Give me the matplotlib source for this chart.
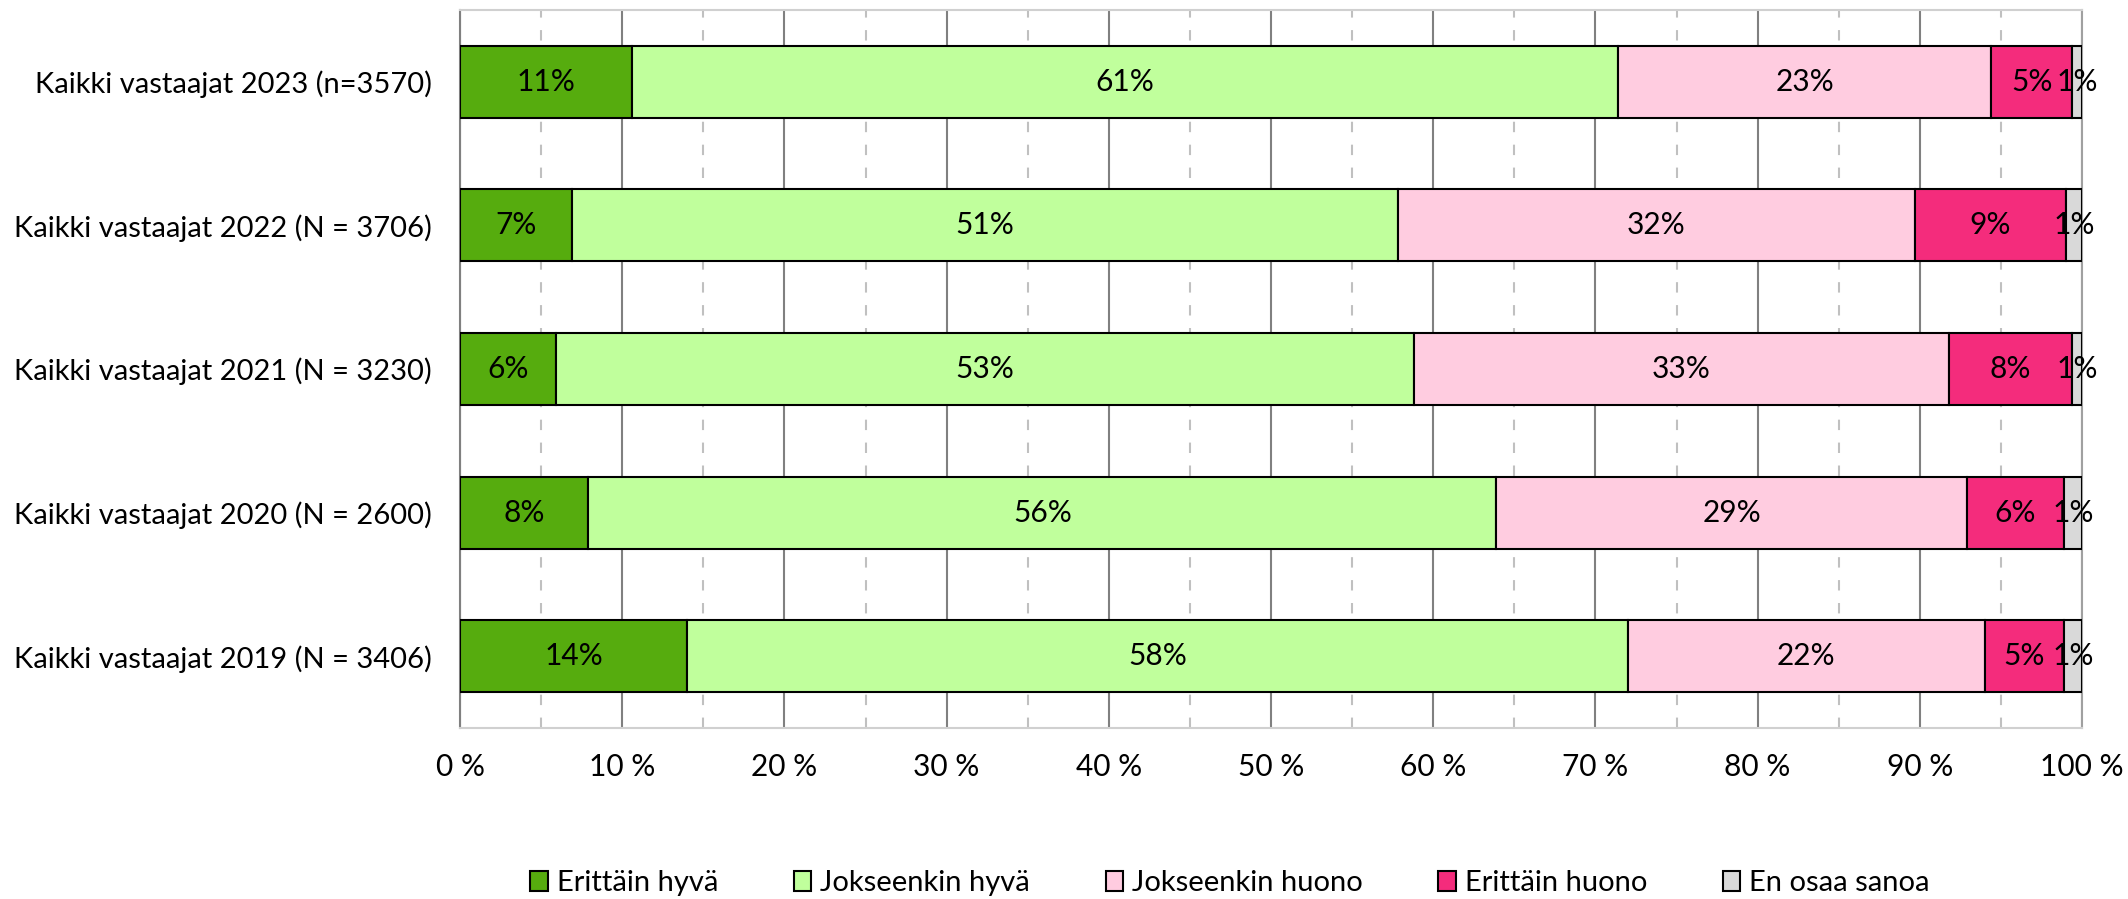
import numpy as np
import matplotlib.pyplot as plt
from matplotlib.ticker import MultipleLocator, FuncFormatter

plt.rcParams['font.family'] = ['Lato', 'DejaVu Sans']

# --- Datos ---
ryhmat = ['Kaikki vastaajat 2023 (n=3570)',
          'Kaikki vastaajat 2022 (N = 3706)',
          'Kaikki vastaajat 2021 (N = 3230)',
          'Kaikki vastaajat 2020 (N = 2600)',
          'Kaikki vastaajat 2019 (N = 3406)']
vastaukset = ['Erittäin hyvä', 'Jokseenkin hyvä', 'Jokseenkin huono',
              'Erittäin huono', 'En osaa sanoa']

erittain_hyva = [10.6, 6.9, 5.9, 7.9, 14.0]
jokseenkin_hyva = [60.8, 50.9, 52.9, 56.0, 58.0]
jokseenkin_huono = [23.0, 31.9, 33.0, 29.0, 22.0]
erittain_huono = [5.0, 9.3, 7.6, 6.0, 4.9]
en_osaa = [0.6, 1.0, 0.6, 1.1, 1.1]

sarjat = [erittain_hyva, jokseenkin_hyva, jokseenkin_huono, erittain_huono, en_osaa]
varit = ['#56ac0e', '#c0ff9c', '#ffcce0', '#f42c7c', '#d9d9d9']

# --- Figura ---
fig = plt.figure(figsize=(21.28, 8.99), dpi=100)
ax = fig.add_axes([460 / 2128, 1 - 728 / 899, (2082 - 460) / 2128, (728 - 10) / 899])

y = np.arange(len(ryhmat))
vasen = np.zeros(len(ryhmat))
for nimi, arvot, vari in zip(vastaukset, sarjat, varit):
    arvot = np.array(arvot)
    ax.barh(y, arvot, left=vasen, height=0.5, color=vari, edgecolor='black',
            linewidth=1.5, label=nimi, zorder=3)
    for yi, a, l in zip(y, arvot, vasen):
        ax.text(l + a / 2, yi, f'{round(a)}%', ha='center', va='center',
                fontsize=21.5, zorder=4)
    vasen = vasen + arvot

ax.set_xlim(0, 100)
ax.set_ylim(4.5, -0.5)
ax.set_yticks(y)
ax.set_yticklabels(ryhmat, fontsize=21)

ax.xaxis.set_major_locator(MultipleLocator(10))
ax.xaxis.set_minor_locator(MultipleLocator(5))
ax.xaxis.set_major_formatter(FuncFormatter(lambda v, p: f'{v:.0f} %'))
ax.tick_params(axis='x', labelsize=21.5, length=0, pad=18, which='both')
ax.tick_params(axis='y', length=0, pad=20)

ax.grid(True, axis='x', which='major', color='#808080', linewidth=1.5, zorder=0)
ax.grid(True, axis='x', which='minor', color='#c0c0c0', linewidth=1.5,
        linestyle=(0, (5, 6)), zorder=0)
for s in ax.spines.values():
    s.set_color('#d0d0d0')
    s.set_linewidth(1.5)
ax.spines['left'].set_color('#808080')
ax.spines['right'].set_color('#a0a0a0')

ax.legend(loc='center', bbox_to_anchor=(1230 / 2128, 1 - 883 / 899),
          bbox_transform=fig.transFigure, ncol=5, frameon=False, fontsize=21,
          handlelength=0.6, handleheight=0.7, handletextpad=0.3,
          columnspacing=2.6)

fig.savefig('out.png', dpi=100)
